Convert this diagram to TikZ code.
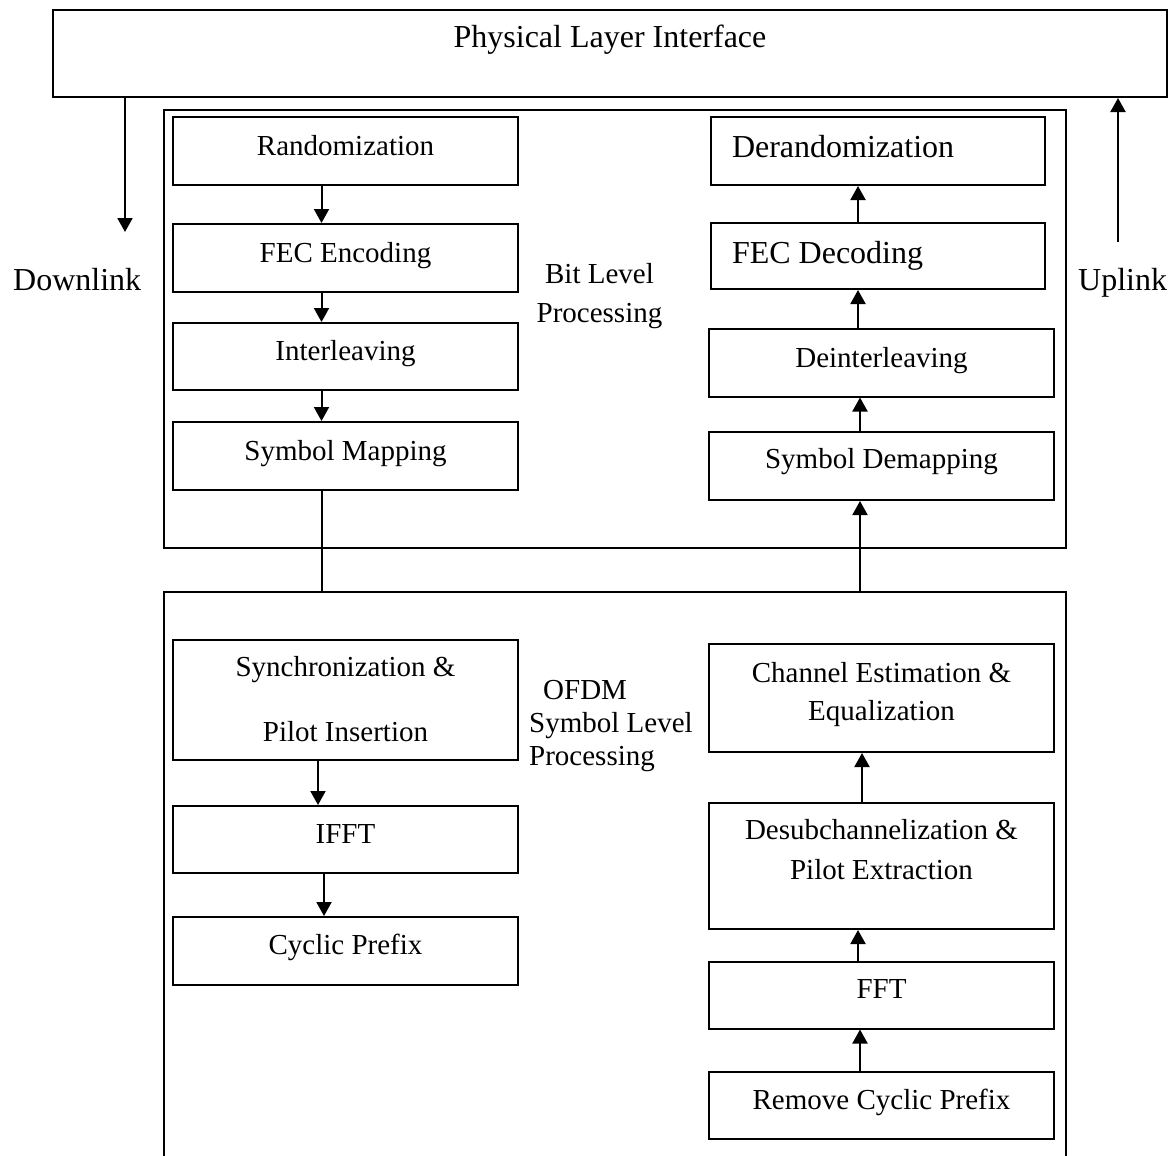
\documentclass[tikz,border=0pt]{standalone}
\usepackage{fontspec}
\setmainfont{Liberation Serif}
\usetikzlibrary{arrows.meta}
\newcommand\fsz[2]{\fontsize{#1}{#2}\selectfont}
\tikzset{
  blk/.style={draw, line width=2pt, inner sep=0pt, minimum width=345pt, font=\fsz{29}{35}},
  grp/.style={draw, line width=2.4pt},
  arr/.style={line width=2pt, -{Triangle[width=15pt,length=14pt]}},
  conn/.style={line width=2pt},
  lbl/.style={inner sep=0pt, anchor=base west}
}
\begin{document}
\begin{tikzpicture}[x=1pt,y=-1pt]
\useasboundingbox (0,0) rectangle (1170,1156);

% top interface
\node[blk, minimum width=1114pt, minimum height=87pt, font=\fsz{32}{38}, text height=0pt, text depth=11pt] (phy) at (610,53.5) {Physical Layer Interface};

% group boxes
\node[grp, minimum width=902pt, minimum height=438pt, inner sep=0pt] (bitgrp) at (615,329) {};
\node[minimum width=902pt, minimum height=580pt, inner sep=0pt] (ofdmgrp) at (615,882) {};
\draw[grp] (ofdmgrp.south west) |- (ofdmgrp.north east) -- (ofdmgrp.south east);

% left (transmit) chain, bit level
\node[blk, minimum height=68pt, text height=8pt, text depth=0pt] (rand) at (345.5,151) {Randomization};
\node[blk, minimum height=68pt, text height=8pt, text depth=0pt] (fecenc) at (345.5,258) {FEC Encoding};
\node[blk, minimum height=67pt, text height=7pt, text depth=0pt] (inter) at (345.5,356.5) {Interleaving};
\node[blk, minimum height=68pt, text height=8pt, text depth=0pt] (symmap) at (345.5,456) {Symbol Mapping};

% right (receive) chain, bit level
\node[blk, minimum width=334pt, minimum height=68pt, font=\fsz{32}{38}, text height=12pt, text depth=0pt] (derand) at (878,151) {\makebox[292pt][l]{Derandomization}};
\node[blk, minimum width=334pt, minimum height=66pt, font=\fsz{32}{38}, text height=14pt, text depth=0pt] (fecdec) at (878,256) {\makebox[292pt][l]{FEC Decoding}};
\node[blk, minimum height=68pt, text height=9pt, text depth=0pt] (deint) at (881.5,362.5) {Deinterleaving};
\node[blk, minimum height=68pt, text height=4pt, text depth=0pt] (symdemap) at (881.5,466) {Symbol Demapping};

% left chain, OFDM level
\node[blk, minimum height=120pt, text height=0pt, text depth=48pt, font=\fsz{29}{65}] (sync) at (345.5,700) {\begin{tabular}[t]{@{}c@{}}Synchronization \&\\Pilot Insertion\end{tabular}};
\node[blk, minimum height=67pt, text height=7pt, text depth=0pt] (ifft) at (345.5,839.5) {IFFT};
\node[blk, minimum height=68pt, text height=6pt, text depth=0pt] (cyclic) at (345.5,951) {Cyclic Prefix};

% right chain, OFDM level
\node[blk, minimum height=108pt, text height=0pt, text depth=32pt, font=\fsz{29}{38}] (chan) at (881.5,698) {\begin{tabular}[t]{@{}c@{}}Channel Estimation \&\\Equalization\end{tabular}};
\node[blk, minimum height=126pt, text height=0pt, text depth=54pt, font=\fsz{29}{40}] (desub) at (881.5,866) {\begin{tabular}[t]{@{}c@{}}Desubchannelization \&\\Pilot Extraction\end{tabular}};
\node[blk, minimum height=67pt, text height=6pt, text depth=0pt] (fft) at (881.5,995) {FFT};
\node[blk, minimum height=67pt, text height=7pt, text depth=0pt] (remove) at (881.5,1105.5) {Remove Cyclic Prefix};

% side labels
\node[lbl, font=\fsz{32}{38}] (dltext) at (13,290) {Downlink};
\node[lbl, font=\fsz{32}{38}] (ultext) at (1078,290) {Uplink};
\node[inner sep=0pt, anchor=base, font=\fsz{29}{39}] (bitlbl) at (599.5,283) {\begin{tabular}[t]{@{}c@{}}Bit Level\\Processing\end{tabular}};
\node[lbl, font=\fsz{29}{33}] (ofdmlbl) at (529,699) {\begin{tabular}[t]{@{}l@{}}\hspace{14pt}OFDM\\Symbol Level\\Processing\end{tabular}};

% downlink / uplink arrows
\coordinate (dl) at (125,232);
\coordinate (ul) at (1118,242);
\draw[arr] (phy.south -| dl) -- (dl);
\draw[arr] (ul) -- (ul |- phy.south);

% transmit arrows
\draw[arr] ([xshift=-24pt]rand.south) -- ([xshift=-24pt]fecenc.north);
\draw[arr] ([xshift=-24pt]fecenc.south) -- ([xshift=-24pt]inter.north);
\draw[arr] ([xshift=-24pt]inter.south) -- ([xshift=-24pt]symmap.north);
\draw[conn] ([xshift=-24pt]symmap.south) -- ([xshift=-24pt]symmap.south |- ofdmgrp.north);
\draw[arr] ([xshift=-27.5pt]sync.south) -- ([xshift=-27.5pt]ifft.north);
\draw[arr] ([xshift=-21.5pt]ifft.south) -- ([xshift=-21.5pt]cyclic.north);

% receive arrows
\draw[arr] ([xshift=-21.5pt]remove.north) -- ([xshift=-21.5pt]fft.south);
\draw[arr] ([xshift=-23.5pt]fft.north) -- ([xshift=-23.5pt]desub.south);
\draw[arr] ([xshift=-19.5pt]desub.north) -- ([xshift=-19.5pt]chan.south);
\draw[arr] ([xshift=-21.5pt]symdemap.south |- ofdmgrp.north) -- ([xshift=-21.5pt]symdemap.south);
\draw[arr] ([xshift=-21.5pt]symdemap.north) -- ([xshift=-21.5pt]deint.south);
\draw[arr] ([xshift=-23.5pt]deint.north) -- ([xshift=-23.5pt]deint.north |- fecdec.south);
\draw[arr] ([xshift=-20pt]fecdec.north) -- ([xshift=-20pt]derand.south);
\end{tikzpicture}
\end{document}
